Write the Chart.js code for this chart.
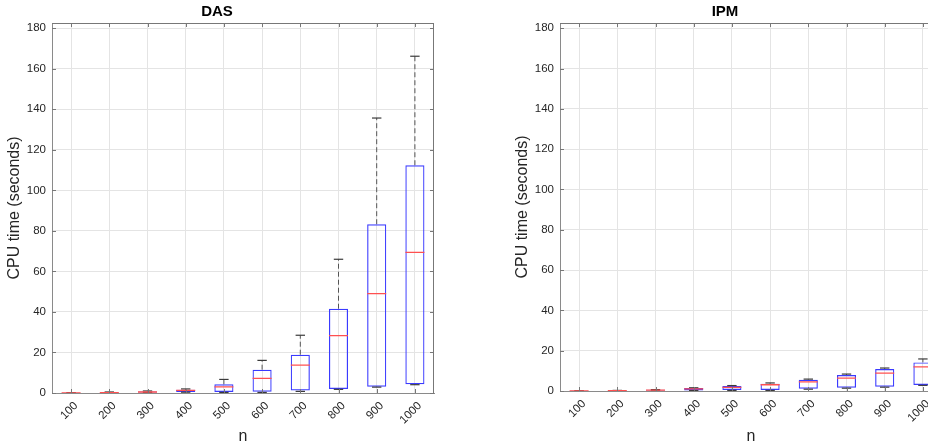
<!DOCTYPE html>
<html>
<head>
<meta charset="utf-8">
<script src="https://cdn.jsdelivr.net/npm/chart.js@4.4.0/dist/chart.umd.min.js"></script>
<style>
  html, body { margin: 0; padding: 0; background: #fff; overflow: hidden; width: 928px; height: 446px; }
  canvas { position: absolute; top: 0; }
  #das { left: 0; }
  #ipm { left: 508px; }
</style>
</head>
<body>
<canvas id="das" width="464" height="446"></canvas>
<canvas id="ipm" width="464" height="446"></canvas>
<script>
const sizes = ["100", "200", "300", "400", "500", "600", "700", "800", "900", "1000"];

// DAS box statistics (seconds)
const dasMin = [0, 0.05, 0.2, 0.4, 0.3, 0.3, 0.8, 1.8, 2.9, 4.1];
const dasQ1 = [0.02, 0.1, 0.3, 0.5, 0.5, 0.6, 1.2, 2.0, 3.1, 4.3];
const dasMed = [0.05, 0.2, 0.5, 1.3, 3.0, 7.2, 13.8, 28.3, 49.0, 69.4];
const dasQ3 = [0.1, 0.4, 0.7, 1.6, 4.3, 11.5, 18.9, 41.6, 83.3, 112.4];
const dasMax = [0.15, 0.5, 1.0, 2.0, 6.7, 16.1, 28.5, 66.0, 135.7, 166.2];

// IPM box statistics (seconds)
const ipmMin = [0, 0.05, 0.1, 0.2, 0.3, 0.3, 0.9, 1.4, 1.9, 2.8];
const ipmQ1 = [0.02, 0.1, 0.2, 0.3, 0.5, 0.5, 1.1, 1.6, 2.1, 3.0];
const ipmMed = [0.05, 0.15, 0.4, 1.1, 1.8, 3.1, 4.5, 6.4, 8.9, 12.0];
const ipmQ3 = [0.1, 0.2, 0.6, 1.5, 2.5, 3.6, 5.6, 7.9, 10.9, 14.2];
const ipmMax = [0.12, 0.3, 0.7, 1.6, 2.7, 4.0, 5.9, 8.4, 11.4, 15.9];

const yTop = 182.6;
const fontFam = '"Liberation Sans", Arial, Helvetica, sans-serif';

// top/right border and inward tick marks, matlab style
const frame = {
  id: "frame",
  afterDraw(chart) {
    const { ctx, chartArea: a, scales } = chart;
    ctx.save();
    ctx.strokeStyle = "#777";
    ctx.lineWidth = 1;
    ctx.beginPath();
    ctx.moveTo(a.left, a.top + 0.5);
    ctx.lineTo(a.right, a.top + 0.5);
    ctx.moveTo(a.right - 0.5, a.top);
    ctx.lineTo(a.right - 0.5, a.bottom);
    const len = 4;
    scales.x.ticks.forEach((t, i) => {
      const x = Math.round(scales.x.getPixelForTick(i)) + 0.5;
      ctx.moveTo(x, a.top);
      ctx.lineTo(x, a.top + len);
      ctx.moveTo(x, a.bottom);
      ctx.lineTo(x, a.bottom - len);
    });
    scales.y.ticks.forEach((t, i) => {
      const y = Math.round(scales.y.getPixelForTick(i)) + 0.5;
      ctx.moveTo(a.left, y);
      ctx.lineTo(a.left + len, y);
      ctx.moveTo(a.right, y);
      ctx.lineTo(a.right - len, y);
    });
    ctx.stroke();
    ctx.restore();
  }
};

function whiskerPoints(lo, q1, q3, hi) {
  const pts = [];
  sizes.forEach((s, i) => {
    pts.push({ x: s, y: lo[i] }, { x: s, y: q1[i] }, { x: s, y: null });
    pts.push({ x: s, y: q3[i] }, { x: s, y: hi[i] }, { x: s, y: null });
  });
  return pts;
}

function drawBoxes(id, title, lo, q1, med, q3, hi, xHeight) {
  new Chart(id, {
    type: "bar",
    data: {
      labels: sizes,
      datasets: [
        {
          type: "line",
          data: whiskerPoints(lo, q1, q3, hi),
          borderColor: "#555",
          borderWidth: 1,
          borderDash: [5, 3],
          pointRadius: 0,
          spanGaps: false,
          order: 3,
        },
        {
          data: sizes.map((s, i) => [q1[i], q3[i]]),
          backgroundColor: "rgba(0,0,0,0)",
          borderColor: "#3a3aff",
          borderWidth: 1.2,
          borderSkipped: false,
          categoryPercentage: 1,
          barPercentage: 0.5,
          order: 2,
        },
        {
          type: "line",
          data: [...lo, ...hi].map((v, k) => ({ x: sizes[k % 10], y: v })),
          showLine: false,
          pointStyle: "line",
          pointRadius: 4.7,
          pointBorderColor: "#3a3a3a",
          pointBorderWidth: 1.2,
          order: 1,
        },
        {
          type: "line",
          data: med,
          showLine: false,
          pointStyle: "line",
          pointRadius: 9.5,
          pointBorderColor: "#ff5050",
          pointBorderWidth: 1.3,
          order: 0,
        },
      ],
    },
    options: {
      responsive: false,
      animation: false,
      events: [],
      layout: { padding: { right: 30 } },
      plugins: {
        legend: { display: false },
        tooltip: { enabled: false },
        title: {
          display: true,
          text: title,
          color: "#000",
          font: { family: fontFam, size: 15, weight: "bold", lineHeight: 1.2 },
          padding: { top: 3, bottom: 2 },
        },
      },
      scales: {
        x: {
          offset: true,
          grid: { offset: false, color: "#e4e4e4", drawTicks: false },
          border: { color: "#8a8a8a" },
          ticks: {
            autoSkip: false,
            minRotation: 45,
            maxRotation: 45,
            padding: 6,
            labelOffset: 5,
            color: "#262626",
            font: { family: fontFam, size: 11.5 },
          },
          title: {
            display: true,
            text: "n",
            color: "#262626",
            font: { family: fontFam, size: 16, lineHeight: 1.2 },
            padding: 0,
          },
          afterFit(scale) { scale.height = xHeight; },
        },
        y: {
          min: 0,
          max: yTop,
          grid: { color: "#e4e4e4", drawTicks: false },
          border: { color: "#8a8a8a" },
          ticks: {
            stepSize: 20,
            includeBounds: false,
            padding: 6,
            color: "#262626",
            font: { family: fontFam, size: 11.5 },
          },
          title: {
            display: true,
            text: "CPU time (seconds)",
            color: "#262626",
            font: { family: fontFam, size: 16, lineHeight: 1.2 },
            padding: { top: 5, bottom: 0 },
          },
          afterFit(scale) { scale.width = 52; },
        },
      },
    },
    plugins: [frame],
  });
}

drawBoxes("das", "DAS", dasMin, dasQ1, dasMed, dasQ3, dasMax, 53);
drawBoxes("ipm", "IPM", ipmMin, ipmQ1, ipmMed, ipmQ3, ipmMax, 55);
</script>
</body>
</html>
